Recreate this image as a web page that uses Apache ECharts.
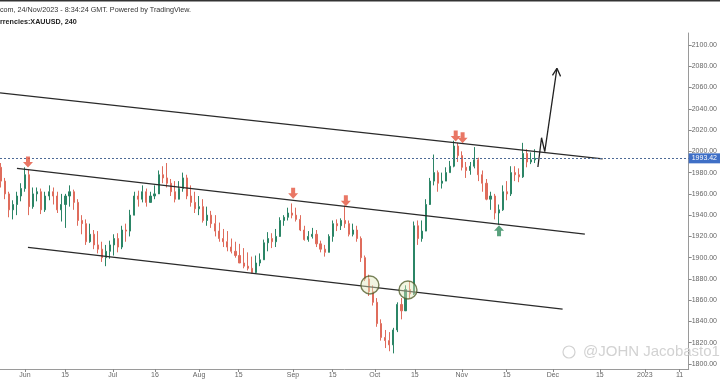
<!DOCTYPE html>
<html><head><meta charset="utf-8">
<script src="https://cdn.jsdelivr.net/npm/echarts@6/dist/echarts.min.js"></script>
<style>html,body{margin:0;padding:0;background:#fff}#c{width:720px;height:380px}</style>
</head><body><div id="c"></div>
<script>
// trading-day index of first candle (0 = 1 Jun)
const firstDay = -6;
// [open, close, low, high] per trading day
const ohlc = [
[1985,1972,1966,1989],[1972,1960,1955,1975],[1960,1945,1938,1962],[1945,1950,1936,1954],
[1950,1958,1940,1962],[1958,1965,1953,1970],[1965,1978,1962,1985],[1978,1948,1940,1983],
[1948,1960,1946,1966],[1960,1962,1953,1966],[1962,1945,1941,1965],[1945,1958,1943,1962],
[1958,1962,1954,1968],[1962,1958,1950,1966],[1958,1945,1942,1962],[1945,1950,1934,1960],
[1950,1958,1928,1960],[1958,1962,1948,1968],[1962,1952,1945,1964],[1952,1935,1930,1955],
[1935,1932,1922,1940],[1932,1915,1912,1936],[1915,1922,1914,1932],[1922,1912,1908,1926],
[1912,1908,1904,1925],[1908,1900,1896,1915],[1900,1906,1892,1912],[1906,1912,1899,1916],
[1912,1918,1902,1922],[1918,1910,1905,1923],[1910,1926,1908,1930],[1926,1925,1915,1932],
[1925,1940,1920,1945],[1940,1958,1943,1962],[1958,1955,1948,1963],[1955,1962,1952,1968],
[1962,1952,1948,1965],[1952,1958,1952,1962],[1958,1960,1955,1968],[1960,1978,1968,1982],
[1978,1975,1970,1986],[1975,1970,1966,1989],[1970,1962,1958,1974],[1962,1955,1952,1972],
[1955,1965,1957,1972],[1965,1975,1962,1980],[1975,1958,1955,1978],[1958,1952,1948,1968],
[1952,1946,1942,1962],[1946,1948,1940,1958],[1948,1935,1933,1955],[1935,1940,1930,1948],
[1940,1932,1928,1944],[1932,1925,1920,1940],[1925,1918,1915,1933],[1918,1915,1910,1927],
[1915,1910,1906,1925],[1910,1906,1904,1918],[1906,1902,1900,1915],[1902,1895,1895,1913],
[1895,1892,1890,1909],[1892,1890,1888,1905],[1890,1886,1885,1901],[1886,1895,1885,1902],
[1895,1898,1892,1904],[1898,1914,1898,1917],[1914,1918,1906,1924],[1918,1915,1909,1923],
[1915,1920,1910,1927],[1920,1935,1925,1938],[1935,1938,1930,1940],[1938,1942,1935,1947],
[1942,1940,1937,1951],[1940,1936,1934,1947],[1936,1926,1925,1940],[1926,1917,1916,1930],
[1917,1920,1915,1925],[1920,1922,1918,1928],[1922,1913,1910,1926],[1913,1908,1905,1916],
[1908,1905,1901,1912],[1905,1920,1905,1922],[1920,1932,1915,1935],[1932,1930,1925,1936],
[1930,1935,1926,1937],[1935,1932,1928,1949],[1932,1922,1920,1935],[1922,1926,1920,1932],
[1926,1918,1915,1930],[1918,1900,1896,1920],[1900,1880,1878,1902],[1880,1868,1864,1884],
[1868,1858,1855,1874],[1858,1838,1835,1862],[1838,1825,1822,1842],[1825,1822,1815,1832],
[1822,1818,1812,1830],[1818,1832,1810,1834],[1832,1856,1830,1858],[1856,1850,1842,1862],
[1850,1870,1855,1874],[1870,1866,1862,1878],[1866,1930,1865,1934],[1930,1918,1912,1935],
[1918,1925,1915,1935],[1925,1950,1932,1955],[1950,1972,1952,1975],[1972,1980,1968,1997],
[1980,1970,1962,1982],[1970,1972,1965,1980],[1972,1980,1972,1985],[1980,1986,1980,1991],
[1986,2005,1985,2010],[2005,1996,1990,2008],[1996,1985,1982,2000],[1985,1982,1975,1990],
[1982,1986,1978,1990],[1986,1992,1984,2004],[1992,1978,1972,1994],[1978,1970,1962,1982],
[1970,1955,1954,1974],[1955,1958,1945,1962],[1958,1942,1936,1960],[1942,1945,1931,1950],
[1945,1962,1944,1968],[1962,1960,1954,1972],[1960,1980,1958,1986],[1980,1978,1972,1986],
[1978,1976,1971,1984],[1976,1998,1975,2008],[1998,1990,1985,2002],[1990,1992,1988,1999],
[1992,1993.42,1989,2002]
];
const xTickPos = [0, 9.9, 21.7, 32.1, 43.0, 52.8, 66.2, 76.0, 86.4, 96.3, 107.9, 119.0, 130.4, 142.0, 153.1, 161.7];
const xTickLabels = ['Jun','15','Jul','16','Aug','15','Sep','15','Oct','15','Nov','15','Dec','15','2023','11'];
const yTicks = [1800,1820,1840,1860,1880,1900,1920,1940,1960,1980,2000,2020,2040,2060,2080,2100];
const lastPrice = 1993.42;
const upperChannel = [[-6.17, 2054.9], [142.7, 1993.0]];
const midChannel = [[-1.98, 1984.0], [138.3, 1922.2]];
const lowerChannel = [[0.74, 1909.6], [132.8, 1851.7]];
const sellArrows = [[0.74, 1990.0], [66.24, 1960.5], [79.26, 1953.6], [106.4, 2014.4], [108.1, 2012.8]];
const buyArrows = [[117.1, 1925.4]];
const circles = [[85.2, 1874.3], [94.6, 1869.6]];
const projection = [[126.7, 1985.3], [127.6, 2012.8], [128.4, 1999.7], [131.4, 2078.1]];
const projectionHead = [[130.3, 2071.5], [131.4, 2078.1], [132.3, 2070.5]];

const candles = ohlc.map((d, i) => [firstDay + i, d[0], d[1], d[2], d[3]]);
const FONT = 'Liberation Sans';
const chart = echarts.init(document.getElementById('c'), null, {renderer: 'canvas'});
const lineSeries = (data, extra) => Object.assign({
  type: 'line', data: data, symbol: 'none', silent: true, animation: false,
  lineStyle: {color: '#2a2a2a', width: 1.3}, z: 3
}, extra || {});
chart.setOption({
  animation: false,
  backgroundColor: '#ffffff',
  title: [
    {text: 'com, 24/Nov/2023 - 8:34:24 GMT. Powered by TradingView.', left: 0, top: 7, padding: 0,
     textStyle: {fontSize: 7.2, fontWeight: 'normal', color: '#333', fontFamily: FONT}},
    {text: 'rrencies:XAUUSD, 240', left: 0, top: 19, padding: 0,
     textStyle: {fontSize: 7.2, fontWeight: 'bold', color: '#222', fontFamily: FONT}},
    {text: '@JOHN Jacobasto1', left: 583, top: 344, padding: 0,
     textStyle: {fontSize: 15, fontWeight: 'normal', color: '#d2d2d2', fontFamily: FONT}}
  ],
  graphic: [
    {type: 'rect', shape: {x: 0, y: 0, width: 720, height: 1.5}, style: {fill: '#333'}, silent: true},
    {type: 'circle', shape: {cx: 569, cy: 352, r: 6}, style: {fill: 'none', stroke: '#d2d2d2', lineWidth: 1.2}, silent: true}
  ],
  grid: {left: 0, right: 31, top: 33, bottom: 11, containLabel: false},
  xAxis: {
    type: 'value', min: -6.173, max: 163.95,
    splitLine: {show: false},
    axisLine: {show: true, onZero: false, lineStyle: {color: '#9a9a9a', width: 1}},
    axisTick: {show: true, length: 3, customValues: xTickPos, lineStyle: {color: '#888'}},
    axisLabel: {customValues: xTickPos, fontSize: 7, color: '#666', margin: 3, fontFamily: FONT,
      formatter: v => { const i = xTickPos.findIndex(p => Math.abs(p - v) < 0.01); return i >= 0 ? xTickLabels[i] : ''; }}
  },
  yAxis: {
    type: 'value', position: 'right', min: 1795.3, max: 2111.3,
    splitLine: {show: false},
    axisLine: {show: true, onZero: false, lineStyle: {color: '#9a9a9a', width: 1}},
    axisTick: {show: true, length: 3, customValues: yTicks, lineStyle: {color: '#888'}},
    axisLabel: {customValues: yTicks, fontSize: 7, color: '#666', margin: 3, fontFamily: FONT,
      formatter: v => v.toFixed(2)}
  },
  series: [
    {
      type: 'candlestick', data: candles, encode: {x: 0, y: [1, 2, 3, 4]},
      barWidth: 1.6, silent: true,
      itemStyle: {color: '#2b8566', color0: '#df6c5c', borderColor: '#2b8566', borderColor0: '#df6c5c', borderWidth: 1},
      markLine: {
        symbol: 'none', silent: true, animation: false,
        lineStyle: {color: '#4d6a96', type: [2, 2], width: 1},
        label: {position: 'end', formatter: () => lastPrice.toFixed(2), backgroundColor: '#3f6fc6',
          color: '#fff', fontSize: 7, padding: [2, 3, 1, 3], distance: 0, fontFamily: FONT},
        data: [{yAxis: lastPrice}]
      }
    },
    lineSeries(upperChannel),
    lineSeries(midChannel),
    lineSeries(lowerChannel),
    lineSeries(projection, {lineStyle: {color: '#222', width: 1.3}}),
    lineSeries(projectionHead, {lineStyle: {color: '#222', width: 1.3}}),
    {
      type: 'scatter', data: circles, symbol: 'circle', symbolSize: 18, silent: true, z: 4,
      itemStyle: {color: 'rgba(222,232,186,0.55)', borderColor: '#55612f', borderWidth: 1.4}
    },
    {
      type: 'scatter', data: sellArrows, symbol: 'path://M3,0 L7,0 L7,5 L10,5 L5,10 L0,5 L3,5 Z',
      symbolSize: [10, 11], silent: true, z: 5, itemStyle: {color: '#e4553e'}
    },
    {
      type: 'scatter', data: buyArrows, symbol: 'path://M5,0 L10,5 L7,5 L7,10 L3,10 L3,5 L0,5 Z',
      symbolSize: [10, 11], silent: true, z: 5, itemStyle: {color: '#2f8a5c'}
    }
  ]
});
</script>
</body></html>
